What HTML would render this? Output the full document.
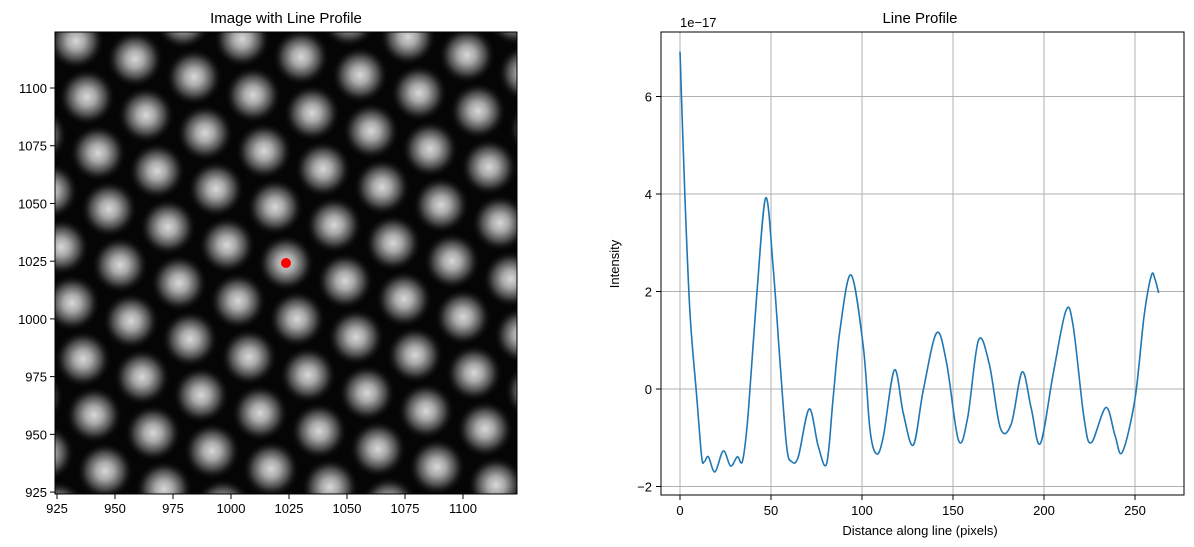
<!DOCTYPE html>
<html><head><meta charset="utf-8"><style>
body{margin:0;background:#fff;}
svg{display:block;font-family:"Liberation Sans","DejaVu Sans",sans-serif;}
</style></head><body>
<svg id="fig" width="1194" height="547" viewBox="0 0 1194 547" xmlns="http://www.w3.org/2000/svg">
<defs>
<radialGradient id="blob">
<stop offset="0" stop-color="#d8d8d8"/>
<stop offset="0.3" stop-color="#a8a8a8"/>
<stop offset="0.65" stop-color="#444"/>
<stop offset="1" stop-color="#000" stop-opacity="0"/>
</radialGradient>
<clipPath id="imgclip"><rect x="55" y="32" width="462" height="462"/></clipPath>
<clipPath id="plotclip"><rect x="661" y="32" width="523" height="463"/></clipPath>
</defs>
<text x="286" y="23" font-size="15" text-anchor="middle">Image with Line Profile</text>
<g id="imgpanel">
<rect x="55" y="32" width="462" height="462" fill="#050505"/>
<g id="blobs" clip-path="url(#imgclip)"></g>
<circle cx="286" cy="263" r="5" fill="#ff0000"/>
<rect x="55" y="32" width="462" height="462" fill="none" stroke="#000" stroke-width="1"/>
<g id="imgticks"></g>
</g>
<text x="920" y="23" font-size="15" text-anchor="middle">Line Profile</text>
<text x="680" y="27" font-size="13">1e−17</text>
<text transform="translate(619,264) rotate(-90)" font-size="13" text-anchor="middle">Intensity</text>
<text x="920" y="535" font-size="13" text-anchor="middle">Distance along line (pixels)</text>
<g id="plot"></g>
</svg>
<script>
const xTicks=[0,50,100,150,200,250];
const yTicks=[-2,0,2,4,6];
const dist=[0,2.7,5.5,9.2,11.9,13.4,15.6,19.2,23.8,27.8,31.5,34.4,37.5,42.1,47.1,51.3,55,58.6,61.4,65,71,76,80.6,84.2,87.9,94,100.7,104.4,108,111.7,117.8,122.7,128.2,133.7,141,146.5,153,158,164,170,176,182,188,193,198,205,212,216,222,226,234,239,243,250,255,259,261,263];
const intensity=[6.92,3.95,1.55,-0.16,-1.39,-1.49,-1.39,-1.7,-1.27,-1.58,-1.39,-1.47,-0.49,1.89,3.92,2.44,0.53,-1.18,-1.49,-1.39,-0.41,-1.18,-1.53,-0.16,1.21,2.34,0.87,-0.84,-1.33,-0.98,0.39,-0.5,-1.15,-0.02,1.15,0.53,-1.05,-0.6,1.0,0.5,-0.8,-0.72,0.35,-0.4,-1.12,0.3,1.6,1.3,-0.6,-1.1,-0.38,-0.95,-1.3,-0.2,1.5,2.33,2.25,1.97];
const imgXTicks=[925,950,975,1000,1025,1050,1075,1100];
const imgYTicks=[925,950,975,1000,1025,1050,1075,1100];
const NS="http://www.w3.org/2000/svg";
function mk(t,a,p){const e=document.createElementNS(NS,t);for(const k in a)e.setAttribute(k,a[k]);p.appendChild(e);return e;}
const X=v=>680+v*1.82, Y=v=>389-v*48.75;
const plot=document.getElementById('plot');
xTicks.forEach(v=>{
 const g=mk('line',{x1:X(v),x2:X(v),y1:32,y2:495,stroke:'#b0b0b0','stroke-width':1},plot);
 
 
 mk('line',{x1:X(v),x2:X(v),y1:495,y2:500,stroke:'#000'},plot);
 const t=mk('text',{x:X(v),y:515,'font-size':13,'text-anchor':'middle'},plot);t.textContent=v;
 
 
});
yTicks.forEach(v=>{
 const g=mk('line',{x1:661,x2:1184,y1:Y(v),y2:Y(v),stroke:'#b0b0b0','stroke-width':1},plot);
 
 
 mk('line',{x1:656,x2:661,y1:Y(v),y2:Y(v),stroke:'#000'},plot);
 const t=mk('text',{x:652,y:Y(v)+5,'font-size':13,'text-anchor':'end'},plot);t.textContent=(v<0?'−'+(-v):v);
 
 
});
let pts=dist.map((d,i)=>[X(d),Y(intensity[i])]);
let d='M'+pts[0][0]+','+pts[0][1];
for(let i=0;i<pts.length-1;i++){
 const p0=pts[Math.max(0,i-1)],p1=pts[i],p2=pts[i+1],p3=pts[Math.min(pts.length-1,i+2)];
 const c1=[p1[0]+(p2[0]-p0[0])/6,p1[1]+(p2[1]-p0[1])/6],c2=[p2[0]-(p3[0]-p1[0])/6,p2[1]-(p3[1]-p1[1])/6];
 d+=' C'+c1+' '+c2+' '+p2;
}
const line=mk('path',{d:d,fill:'none',stroke:'#1f77b4','stroke-width':1.6,'clip-path':'url(#plotclip)'},plot);


const fr=mk('rect',{x:661,y:32,width:523,height:463,fill:'none',stroke:'#000'},plot);


// image lattice centred on the marked atom
const bl=document.getElementById('blobs');
for(let i=-10;i<=10;i++)for(let j=-10;j<=10;j++){
 const cx=286+59*i+11*j, cy=263+18*i+56*j;
 if(cx<10||cx>570||cy<-10||cy>540)continue;
 const c=mk('circle',{cx:cx,cy:cy,r:29,fill:'url(#blob)'},bl);
 
 
}
const it=document.getElementById('imgticks');
imgXTicks.forEach(v=>{const x=57+(v-925)*2.32;
 mk('line',{x1:x,x2:x,y1:494,y2:499,stroke:'#000'},it);
 const t=mk('text',{x:x,y:513,'font-size':13,'text-anchor':'middle'},it);t.textContent=v;
 
 });
imgYTicks.forEach(v=>{const y=88+(1100-v)*2.309;
 mk('line',{x1:50,x2:55,y1:y,y2:y,stroke:'#000'},it);
 const t=mk('text',{x:47,y:y+5,'font-size':13,'text-anchor':'end'},it);t.textContent=v;
 
 });
</script>
</body></html>
